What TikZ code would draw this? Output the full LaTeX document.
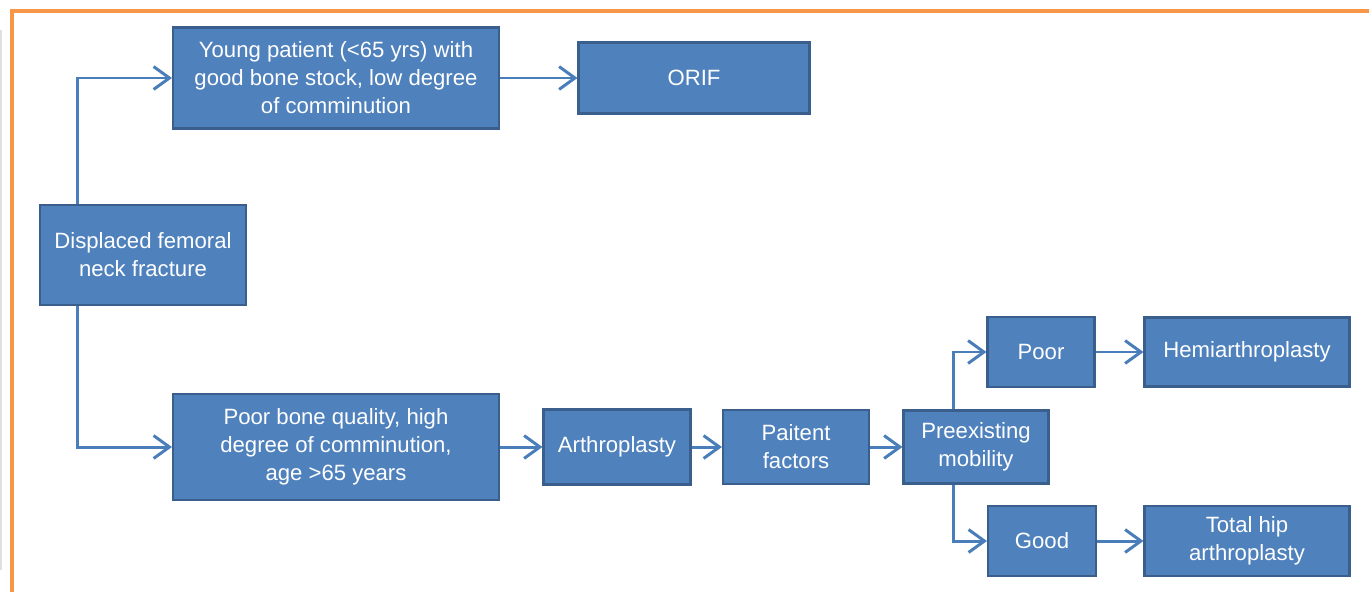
\documentclass[tikz,border=0pt]{standalone}
\usepackage{fontspec}
\setmainfont{Liberation Sans}
\usetikzlibrary{arrows.meta}
\definecolor{boxblue}{HTML}{4F81BD}
\definecolor{boxedge}{HTML}{3A5F8C}
\definecolor{linkblue}{HTML}{4A7EBB}
\definecolor{frameorange}{HTML}{F79646}

\begin{document}
\begin{tikzpicture}[x=0.02cm, y=-0.02cm,
	box/.style = {draw=boxedge, line width=1.2pt, fill=boxblue, text=white, align=center, inner sep=0pt, font=\fontsize{12.6}{15.9}\selectfont},
	link/.style = {draw=linkblue, line width=1.7pt, -{Straight Barb[length=9pt,width=13pt,line width=1.7pt]}}]
	\useasboundingbox (0,0) rectangle (1369,592);
	% frame
	\draw [frameorange, line width=2.3pt] (12,592) |- (1369,11);
	\draw [black!12, line width=1.5pt] (1,30) -- (1,570);
	% boxes
	\node [box, minimum width=4.12cm, minimum height=2cm] (disp) at (143,255) {Displaced femoral\\neck fracture};
	\node [box, minimum width=6.52cm, minimum height=2.02cm] (young) at (336,78) {Young patient (<65 yrs) with\\good bone stock, low degree\\of comminution};
	\node [box, minimum width=4.62cm, minimum height=1.42cm] (orif) at (694,78) {ORIF};
	\node [box, minimum width=6.52cm, minimum height=2.12cm] (old) at (336,447) {Poor bone quality, high\\degree of comminution,\\age >65 years};
	\node [box, minimum width=2.94cm, minimum height=1.5cm] (arthro) at (617,447) {Arthroplasty};
	\node [box, minimum width=2.92cm, minimum height=1.48cm] (factors) at (796,447) {Paitent\\factors};
	\node [box, minimum width=2.9cm, minimum height=1.46cm] (mobil) at (976,447) {Preexisting\\mobility};
	\node [box, minimum width=2.14cm, minimum height=1.4cm] (poor) at (1041,352) {Poor};
	\node [box, minimum width=4.1cm, minimum height=1.38cm] (hemi) at (1247,352) {Hemiarthroplasty};
	\node [box, minimum width=2.16cm, minimum height=1.4cm] (good) at (1042,541) {Good};
	\node [box, minimum width=4.1cm, minimum height=1.4cm] (tha) at (1247,541) {Total hip\\arthroplasty};
	% connectors
	\draw [link] ([xshift=0.78cm]disp.north west) |- (young);
	\draw [link] ([xshift=0.78cm]disp.south west) |- (old);
	\draw [link] (young) -- (orif);
	\draw [link] (old) -- (arthro);
	\draw [link] (arthro) -- (factors);
	\draw [link] (factors) -- (mobil);
	\draw [link] ([xshift=1.02cm]mobil.north west) |- (poor);
	\draw [link] ([xshift=1.02cm]mobil.south west) |- (good);
	\draw [link] (poor) -- (hemi);
	\draw [link] (good) -- (tha);
\end{tikzpicture}
\end{document}
